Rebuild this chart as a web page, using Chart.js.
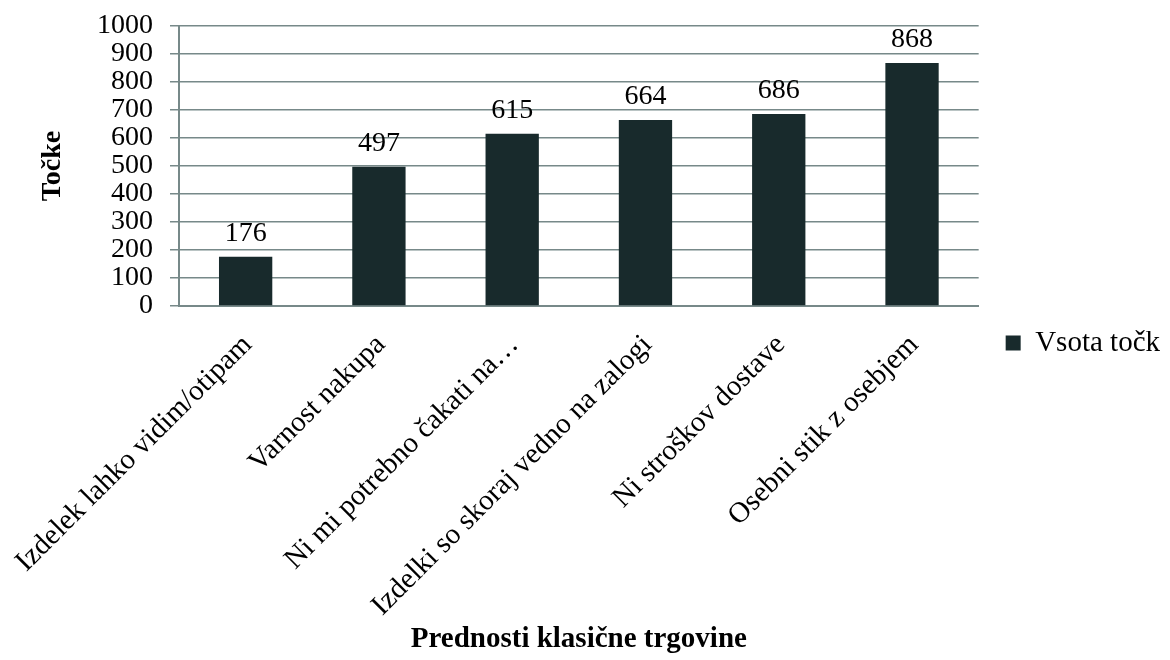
<!DOCTYPE html>
<html lang="sl">
<head>
    <meta charset="UTF-8">
    <title>Prednosti klasične trgovine</title>
    <style>
        body {
            margin: 0;
            padding: 0;
            background-color: #fff;
        }
        .chart-box {
            width: 1170px;
            height: 660px;
        }
    </style>
</head>
<body>
    <div class="chart-box">
        <canvas id="barChart"></canvas>
    </div>
    <script src="https://cdn.jsdelivr.net/npm/chart.js"></script>
    <script>
        const categories = [
            'Izdelek lahko vidim/otipam',
            'Varnost nakupa',
            'Ni mi potrebno čakati na…',
            'Izdelki so skoraj vedno na zalogi',
            'Ni stroškov dostave',
            'Osebni stik z osebjem'
        ];
        const vsotaTock = [176, 497, 615, 664, 686, 868];
        const yTicks = [0, 100, 200, 300, 400, 500, 600, 700, 800, 900, 1000];

        const barColor = '#182a2c';
        const gridColor = '#778989';
        const fontFamily = "'Liberation Serif', 'Times New Roman', serif";

        // vrednosti nad stolpci
        const valueLabels = {
            id: 'valueLabels',
            afterDatasetsDraw(chart) {
                const ctx = chart.ctx;
                const meta = chart.getDatasetMeta(0);
                ctx.save();
                ctx.fillStyle = '#000';
                ctx.font = '28px ' + fontFamily;
                ctx.textAlign = 'center';
                ctx.textBaseline = 'alphabetic';
                meta.data.forEach((bar, i) => {
                    ctx.fillText(vsotaTock[i], bar.x, bar.y - 16);
                });
                ctx.restore();
            }
        };

        function createChart() {
            const ctx = document.getElementById('barChart').getContext('2d');
            new Chart(ctx, {
                type: 'bar',
                data: {
                    labels: categories,
                    datasets: [{
                        label: 'Vsota točk',
                        data: vsotaTock,
                        backgroundColor: barColor,
                        borderWidth: 0,
                        barPercentage: 0.4,
                        categoryPercentage: 1
                    }]
                },
                options: {
                    responsive: true,
                    maintainAspectRatio: false,
                    animation: false,
                    layout: {
                        padding: { top: 26, bottom: 0, left: 0, right: 0 }
                    },
                    scales: {
                        x: {
                            grid: { display: false },
                            border: { display: true, color: gridColor, width: 2 },
                            ticks: {
                                color: '#000',
                                font: { family: fontFamily, size: 29 },
                                minRotation: 45,
                                maxRotation: 45,
                                padding: 14,
                                labelOffset: 2,
                                autoSkip: false
                            },
                            title: {
                                display: true,
                                text: 'Prednosti klasične trgovine',
                                color: '#000',
                                font: { family: fontFamily, size: 29, weight: 'bold' },
                                padding: { top: 0, bottom: 3 }
                            },
                            afterFit(scale) {
                                scale.height = 660 - 306;
                                scale.paddingLeft = 0;
                                scale.paddingRight = 0;
                            }
                        },
                        y: {
                            min: 0,
                            max: 1000,
                            afterBuildTicks(scale) {
                                scale.ticks = yTicks.map(v => ({ value: v }));
                            },
                            grid: {
                                color: gridColor,
                                lineWidth: 1.5,
                                tickLength: 9
                            },
                            border: { display: true, color: gridColor, width: 2 },
                            ticks: {
                                color: '#000',
                                font: { family: fontFamily, size: 28 },
                                padding: 17,
                                autoSkip: false,
                                callback: v => String(v)
                            },
                            title: {
                                display: true,
                                text: 'Točke',
                                color: '#000',
                                font: { family: fontFamily, size: 28, weight: 'bold' },
                                padding: { top: 36, bottom: 0 }
                            },
                            afterFit(scale) {
                                scale.width = 179;
                                scale.paddingTop = 0;
                                scale.paddingBottom = 0;
                            }
                        }
                    },
                    plugins: {
                        legend: {
                            position: 'right',
                            labels: {
                                color: '#000',
                                font: { family: fontFamily, size: 29 },
                                boxWidth: 15,
                                boxHeight: 15,
                                padding: 27
                            }
                        },
                        tooltip: { enabled: false }
                    }
                },
                plugins: [valueLabels]
            });
        }

        document.addEventListener('DOMContentLoaded', () => {
            createChart();
        });
    </script>
</body>
</html>
